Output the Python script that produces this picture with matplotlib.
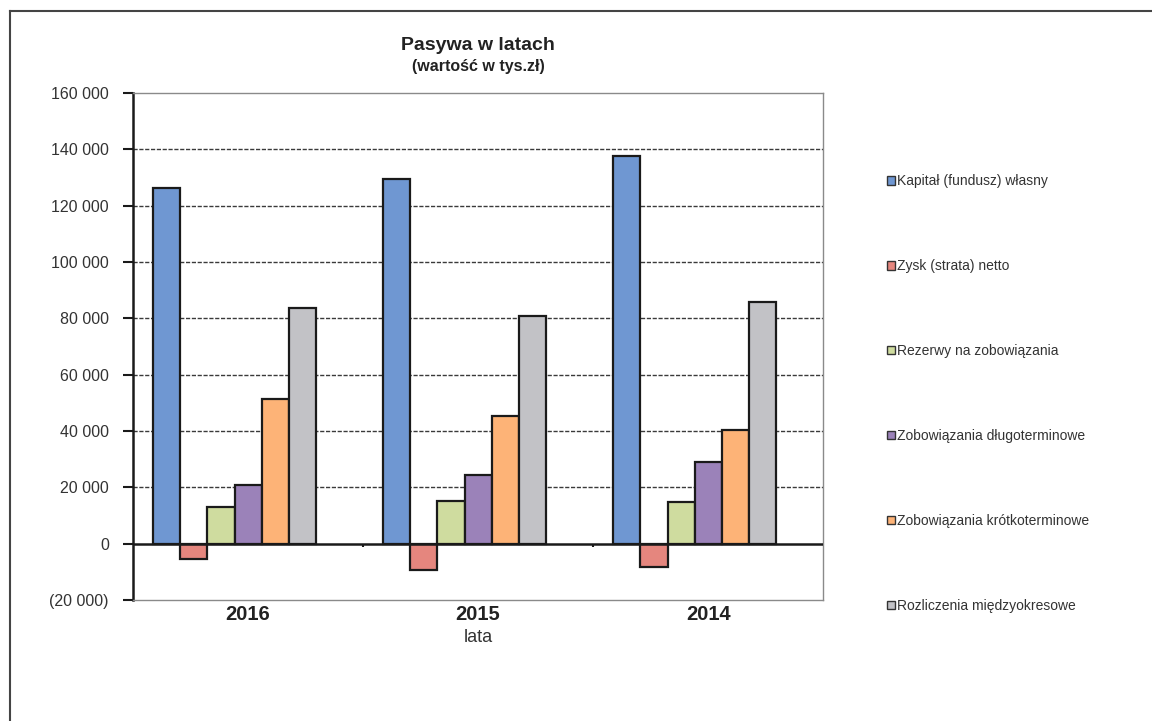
import numpy as np
import matplotlib
matplotlib.use("Agg")
import matplotlib.pyplot as plt
from matplotlib.patches import Patch
from matplotlib.lines import Line2D
from matplotlib.ticker import FuncFormatter, MultipleLocator

plt.rcParams['font.family'] = ['Liberation Sans', 'DejaVu Sans']

#Dane: pasywa w tys. zł dla kolejnych lat.
lata = ['2016', '2015', '2014']
kapital = [126300, 129600, 137700]
zysk = [-5600, -9300, -8100]
rezerwy = [13200, 15100, 14700]
zob_dlugo = [21000, 24400, 29000]
zob_krotko = [51300, 45500, 40200]
rozliczenia = [83800, 80800, 85800]

serie = [kapital, zysk, rezerwy, zob_dlugo, zob_krotko, rozliczenia]
nazwy = ['Kapitał (fundusz) własny', 'Zysk (strata) netto', 'Rezerwy na zobowiązania',
         'Zobowiązania długoterminowe', 'Zobowiązania krótkoterminowe',
         'Rozliczenia międzyokresowe']
kolory = ['#6f97d2', '#e5867e', '#cfdc9f', '#9b82b9', '#fdb377', '#c2c2c6']

fig = plt.figure(figsize=(11.52, 7.21), dpi=100)
ax = fig.add_axes([0.1155, 0.1678, 0.599, 0.703])

#Szerokość słupka jak w Excelu: 7 miejsc w grupie + przerwa 150%.
x = np.arange(len(lata))
w = 1 / 8.5
start = -0.5 + 0.75 * w
for i, (s, kol) in enumerate(zip(serie, kolory)):
    ax.bar(x + start + (i + 0.5) * w, s, width=w, color=kol, edgecolor='#1a1a1a',
           linewidth=1.6, zorder=3)

ax.set_xlim(-0.5, 2.5)
ax.set_ylim(-20000, 160000)
ax.yaxis.set_major_locator(MultipleLocator(20000))

def fmt(v, pos):
    if v < 0:
        return '(' + f'{abs(v):,.0f}'.replace(',', ' ') + ')'
    return f'{v:,.0f}'.replace(',', ' ')

ax.yaxis.set_major_formatter(FuncFormatter(fmt))

#Siatka przerywana, bez linii na górze i dole.
for v in range(20000, 160000, 20000):
    ax.axhline(v, color='#3a3a3a', lw=1.0, ls=(0, (3, 1.2)), zorder=1)
ax.axhline(0, color='#1a1a1a', lw=1.8, zorder=4)
ax.vlines([0.5, 1.5], -1200, 0, color='#1a1a1a', lw=1.5, zorder=4)

for s in ['top', 'right', 'bottom']:
    ax.spines[s].set_color('#8a8a8a')
    ax.spines[s].set_linewidth(1.0)
ax.spines['left'].set_color('#1a1a1a')
ax.spines['left'].set_linewidth(1.8)

ax.set_xticks(x)
ax.set_xticklabels(lata, fontsize=14.5, fontweight='bold', color='#222222')
ax.tick_params(axis='x', length=0, pad=3.5)
ax.tick_params(axis='y', length=7, width=1.5, color='#1a1a1a', labelsize=11.5,
               labelcolor='#333333', pad=10.5)
ax.set_xlabel('lata', fontsize=13, color='#333333', labelpad=4)

fig.text(0.415, 1 - 45 / 721, 'Pasywa w latach', ha='center', va='center',
         fontsize=14, fontweight='bold', color='#222222')
fig.text(0.415, 1 - 66 / 721, '(wartość w tys.zł)', ha='center', va='center',
         fontsize=11.5, fontweight='bold', color='#222222')

#Legenda po prawej stronie.
uchwyty = [Patch(facecolor=k, edgecolor='#333333', linewidth=1.0) for k in kolory]
fig.legend(uchwyty, nazwy, loc='upper left', bbox_to_anchor=(0.770, 0.758),
           frameon=False, fontsize=10, labelspacing=5.1, handlelength=0.55,
           handleheight=0.55, handletextpad=0.2, borderpad=0, borderaxespad=0,
           labelcolor='#333333')

#Ramka całego obszaru wykresu.
fig.add_artist(Line2D([10 / 1152, 1], [1 - 11 / 721, 1 - 11 / 721],
                      transform=fig.transFigure, color='#444444', lw=1.5))
fig.add_artist(Line2D([10 / 1152, 10 / 1152], [0, 1 - 11 / 721],
                      transform=fig.transFigure, color='#444444', lw=1.5))

fig.savefig('out.png', dpi=100)
